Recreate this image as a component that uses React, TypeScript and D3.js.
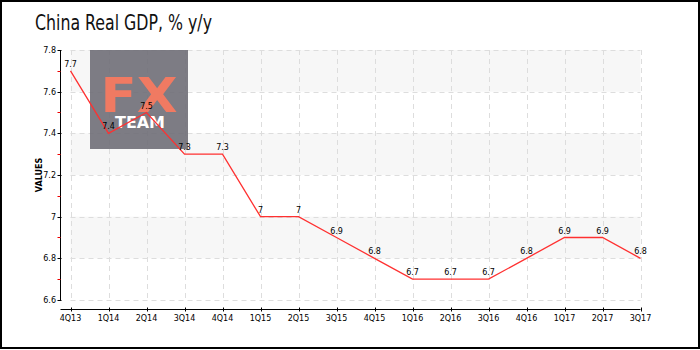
import React from "react";
import * as d3 from "d3";

const categories = ["4Q13","1Q14","2Q14","3Q14","4Q14","1Q15","2Q15","3Q15","4Q15","1Q16","2Q16","3Q16","4Q16","1Q17","2Q17","3Q17"];
const values = [7.7, 7.4, 7.5, 7.3, 7.3, 7.0, 7.0, 6.9, 6.8, 6.7, 6.7, 6.7, 6.8, 6.9, 6.9, 6.8];
const yTicks = [6.6, 6.8, 7.0, 7.2, 7.4, 7.6, 7.8];
const yMinorTicks = [6.7, 6.9, 7.1, 7.3, 7.5, 7.7];
const title = "China Real GDP, % y/y";
const yLabel = "VALUES";

const W = 700, H = 350;
const plot = { left: 70.5, right: 640.5, top: 50, bottom: 300 };
const axisX = 60.5;
const axisY = 309.5;
const smallFont = "'DejaVu Sans', sans-serif";

export default function App() {
  const x = d3.scalePoint<string>().domain(categories).range([plot.left, plot.right]);
  const y = d3.scaleLinear().domain([6.6, 7.8]).range([plot.bottom, plot.top]);
  const line = d3.line<number>().x((_, i) => x(categories[i])!).y(d => y(d));
  const fmt = (v: number) => d3.format("~g")(v);

  const bands = [] as { y0: number; y1: number }[];
  for (let i = 0; i < yTicks.length - 1; i++) {
    if ((yTicks.length - 2 - i) % 2 === 0) bands.push({ y0: yTicks[i], y1: yTicks[i + 1] });
  }

  return (
    <svg width={W} height={H} style={{ position: "absolute", left: 0, top: 0, background: "#fff" }}>
      <rect x={1} y={1} width={698} height={347} fill="#fff" stroke="#000" strokeWidth={2} />
      <text x={35} y={30} fontFamily="'DejaVu Sans Condensed', 'DejaVu Sans', sans-serif" fontSize={21} textLength={177} lengthAdjust="spacingAndGlyphs" fill="#111">{title}</text>

      {/* bands */}
      {bands.map((b, i) => (
        <rect key={i} x={plot.left} width={plot.right - plot.left} y={y(b.y1)} height={y(b.y0) - y(b.y1)} fill="#f7f7f7" />
      ))}
      {/* grid */}
      {yTicks.map(t => (
        <line key={"gy" + t} x1={plot.left} x2={plot.right} y1={Math.round(y(t)) + 0.5} y2={Math.round(y(t)) + 0.5} stroke="#ddd" strokeDasharray="5,4" />
      ))}
      {categories.map(c => (
        <line key={"gx" + c} x1={Math.round(x(c)!) + 0.5} x2={Math.round(x(c)!) + 0.5} y1={plot.top} y2={plot.bottom} stroke="#ddd" strokeDasharray="5,4" />
      ))}

      {/* logo */}
      <g>
        <rect x={90} y={50} width={98} height={99} fill="#6f6e77" opacity={0.9} />
        <text x={139} y={112} textAnchor="middle" fontFamily="'DejaVu Sans', sans-serif" fontWeight="bold" fontSize={48} fill="#f07a62" textLength={77} lengthAdjust="spacingAndGlyphs">FX</text>
        <text x={140} y={128} textAnchor="middle" fontFamily="'DejaVu Sans', sans-serif" fontWeight="bold" fontSize={15} fill="#fff" textLength={50} lengthAdjust="spacingAndGlyphs">TEAM</text>
      </g>

      {/* y axis */}
      <line x1={axisX} x2={axisX} y1={plot.top} y2={plot.bottom} stroke="#000" />
      {yTicks.map(t => (
        <g key={"yt" + t}>
          <line x1={axisX - 3} x2={axisX + 1} y1={Math.round(y(t)) + 0.5} y2={Math.round(y(t)) + 0.5} stroke="#000" />
          <text x={56} y={y(t) + 3} textAnchor="end" fontFamily={smallFont} fontSize={8} fill="#000">{fmt(t)}</text>
        </g>
      ))}
      {yMinorTicks.map(t => (
        <line key={"ym" + t} x1={axisX - 3} x2={axisX} y1={Math.round(y(t)) + 0.5} y2={Math.round(y(t)) + 0.5} stroke="#e00" />
      ))}
      <text transform={`translate(42,${(plot.top + plot.bottom) / 2}) rotate(-90)`} textAnchor="middle" fontFamily={smallFont} fontSize={8} fontWeight="bold" fill="#000">{yLabel}</text>

      {/* x axis */}
      <line x1={axisX} x2={plot.right} y1={axisY} y2={axisY} stroke="#000" />
      {categories.map(c => (
        <g key={"xt" + c}>
          <line x1={Math.round(x(c)!) + 0.5} x2={Math.round(x(c)!) + 0.5} y1={axisY - 2} y2={axisY + 2} stroke="#000" />
          <text x={x(c)!} y={axisY + 11} textAnchor="middle" fontFamily={smallFont} fontSize={8} fill="#000">{c}</text>
        </g>
      ))}

      {/* line */}
      <path d={line(values)!} fill="none" stroke="#ff3030" strokeWidth={1.3} />
      {values.map((v, i) => (
        <text key={"lb" + i} x={x(categories[i])!} y={y(v) - 4} textAnchor="middle" fontFamily={smallFont} fontSize={8} fill="#000">{fmt(v)}</text>
      ))}
    </svg>
  );
}
